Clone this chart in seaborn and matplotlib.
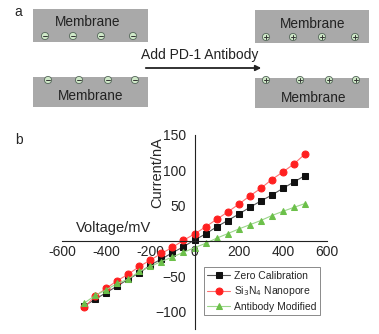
import matplotlib
matplotlib.use("Agg")
import matplotlib.pyplot as plt
import seaborn as sns
import numpy as np
import pandas as pd
from matplotlib.patches import Rectangle, Circle

sns.set_style("white")
plt.rcParams['font.family'] = ['Liberation Sans', 'DejaVu Sans']

# I-V data (mV, nA)
voltage = list(range(-500, 501, 50))
zero_cal = [-92, -82.5, -73, -63.7, -54, -45, -34, -25.5, -16.5, -8, 1.4,
            10, 20, 29, 38, 47.6, 56.6, 65, 74.5, 83.5, 92.5]
nanopore = [-94, -78, -67, -56, -47, -36, -27, -17.5, -9, 1, 10,
            20, 30.7, 41, 52, 63.7, 74.5, 87, 97.6, 109, 123]
antibody = [-88, -77, -69, -60, -54, -43, -36, -29, -22.6, -16, -9.4,
            -3.3, 4, 10.4, 17, 23, 29, 36, 42, 47.6, 53]
series_names = ['Zero Calibration', r'Si$_3$N$_4$ Nanopore', 'Antibody Modified']

df = pd.DataFrame({'Voltage': voltage * 3,
                   'Current': zero_cal + nanopore + antibody,
                   'Sample': [series_names[0]] * 21 + [series_names[1]] * 21 + [series_names[2]] * 21})

W, H = 379, 334
fig = plt.figure(figsize=(W / 100, H / 100), dpi=100)

# ---- panel a : schematic ----
sk = fig.add_axes([0, 0, 1, 1])
sk.set_xlim(0, W)
sk.set_ylim(H, 0)
sk.axis('off')

gray = '#a9a9a9'
rects = [(33, 9, 115, 33), (33, 77, 115, 30), (255, 10, 114, 33), (255, 78, 114, 30)]
for x, y, w, h in rects:
    sk.add_patch(Rectangle((x, y), w, h, facecolor=gray, edgecolor='none'))
for x, y in [(88, 22), (91, 96), (313, 24), (314, 98)]:
    sk.text(x, y, 'Membrane', ha='center', va='center', fontsize=9.8, color='#222222')

charges = [([45, 73, 101, 133], 36, '-'), ([48, 79, 108, 135], 80, '-'),
           ([266, 293, 322, 355], 37, '+'), ([266, 300, 329, 356], 80, '+')]
for xs, y, sign in charges:
    for x in xs:
        sk.add_patch(Circle((x, y), 3.6, facecolor='#cfe8c8', edgecolor='#55665a', lw=0.6))
        sk.plot([x - 2, x + 2], [y, y], color='#333333', lw=0.7)
        if sign == '+':
            sk.plot([x, x], [y - 2, y + 2], color='#333333', lw=0.7)

sk.annotate('', xy=(264, 68), xytext=(143, 68),
            arrowprops=dict(arrowstyle='-|>', color='#222222', lw=1.3, mutation_scale=8))
sk.text(200, 55, 'Add PD-1 Antibody', ha='center', va='center', fontsize=10, color='#222222')
sk.text(18, 12, 'a', ha='center', va='center', fontsize=10)
sk.text(19, 140, 'b', ha='center', va='center', fontsize=10)

# ---- panel b : I-V curves ----
ax = fig.add_axes([62 / W, 1 - 329.4 / H, 265 / W, 194.4 / H])
ax.patch.set_alpha(0)
palette = {series_names[0]: '#111111', series_names[1]: '#ff2020', series_names[2]: '#6cc04a'}
line_cols = ['#555555', '#ff7070', '#9bd68a']
markers = {series_names[0]: 's', series_names[1]: 'o', series_names[2]: '^'}
for name, lc in zip(series_names, line_cols):
    sub = df[df['Sample'] == name]
    sns.lineplot(data=sub, x='Voltage', y='Current', ax=ax, color=lc, lw=0.8,
                 marker=markers[name], markersize=5, markerfacecolor=palette[name],
                 markeredgecolor=palette[name], label=name)

ax.set_xlim(-600, 600)
ax.set_ylim(-125, 150)
ax.spines['left'].set_position(('data', 0))
ax.spines['bottom'].set_position(('data', 0))
ax.spines['right'].set_visible(False)
ax.spines['top'].set_visible(False)
for s in ['left', 'bottom']:
    ax.spines[s].set_color('#222222')
    ax.spines[s].set_linewidth(0.8)
ax.set_xticks([-600, -400, -200, 0, 200, 400, 600])
ax.set_xticklabels(['-600', '-400', '-200', '0', '200', '400', '600'])
ax.set_xticks(np.arange(-500, 600, 200), minor=True)
ax.set_yticks([-100, -50, 50, 100, 150])
ax.set_yticks([-125, -75, -25, 25, 75, 125], minor=True)
ax.tick_params(axis='x', which='major', direction='in', length=4, width=0.8, labelsize=10, pad=3)
ax.tick_params(axis='x', which='minor', direction='in', length=2, width=0.6)
ax.tick_params(axis='y', which='major', direction='out', length=4, width=0.8, labelsize=10, pad=2)
ax.tick_params(axis='y', which='minor', direction='out', length=2, width=0.6)
ax.set_xlabel('')
ax.set_ylabel('')
ax.text(-365, 18, 'Voltage/mV', ha='center', va='center', fontsize=10.5)
ax.text(-170, 97, 'Current/nA', ha='center', va='center', fontsize=10.5, rotation=90)

leg = ax.legend(loc='lower right', bbox_to_anchor=(0.995, 0.045), fontsize=7.5, frameon=True,
                fancybox=False, edgecolor='#555555', handlelength=2.2, borderpad=0.35,
                labelspacing=0.35, handletextpad=0.4)
leg.get_frame().set_linewidth(0.6)

fig.savefig('out.png', dpi=100)
